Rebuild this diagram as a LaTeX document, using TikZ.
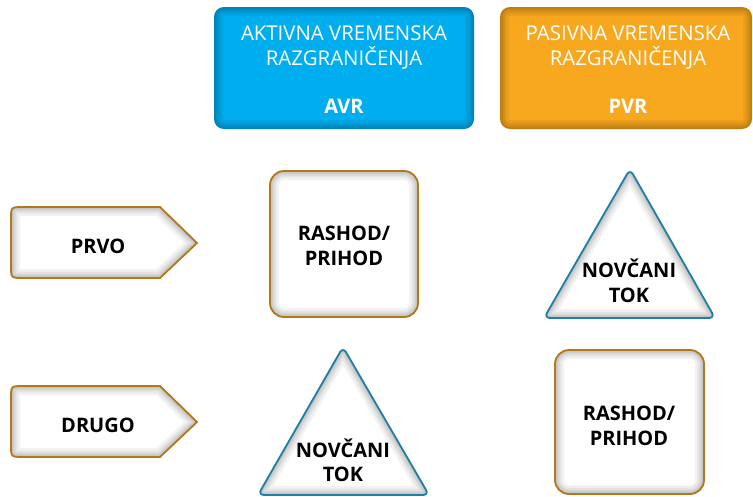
\documentclass[tikz,border=0pt]{standalone}
\usepackage{fontspec}
\setmainfont{Open Sans}
\definecolor{avrblue}{HTML}{00ADEF}
\definecolor{pvrorange}{HTML}{F7A81E}
\definecolor{framebrown}{HTML}{B3781A}
\definecolor{frameblue}{HTML}{1E7FA3}
% soft shading along the inside of a closed path: #1 path, #2 colour, #3 strength
\newcommand\innerglow[3]{%
  \begin{scope}
    \clip #1;
    \foreach \w in {18,13,9,6,3}
      \draw[line width=\w pt, draw=#2, draw opacity=#3] #1;
  \end{scope}}
\begin{document}
\begin{tikzpicture}[x=1pt,y=-1pt,
    headtxt/.style={text=white, font=\fontsize{20.4}{24}\selectfont, anchor=base, inner sep=0pt},
    headtag/.style={text=white, font=\fontsize{20}{24}\selectfont\bfseries, anchor=base, inner sep=0pt},
    bodytxt/.style={text=black, font=\fontsize{20}{24}\selectfont\bfseries, anchor=base, inner sep=0pt},
    brownframe/.style={draw=framebrown, line width=1.8pt},
    blueframe/.style={draw=frameblue, line width=1.8pt}]
\useasboundingbox (0,0) rectangle (753,496);

% column headers
\fill[avrblue, rounded corners=10] (214,7) rectangle (474,129);
\innerglow{[rounded corners=10] (214,7) rectangle (474,129)}{black}{0.05}
\fill[pvrorange, rounded corners=10] (500,7) rectangle (752,129);
\innerglow{[rounded corners=10] (500,7) rectangle (752,129)}{black}{0.05}

\node[headtxt] (avr1) at (344,40) {AKTIVNA VREMENSKA};
\node[headtxt] (avr2) at (344,65) {RAZGRANIČENJA};
\node[headtag] (avr3) at (344,113) {AVR};
\node[headtxt] (pvr1) at (628,40) {PASIVNA VREMENSKA};
\node[headtxt] (pvr2) at (628,65) {RAZGRANIČENJA};
\node[headtag] (pvr3) at (628,113) {PVR};

% row labels (tags pointing right)
\def\tagpath#1{(160,#1-36) -- (197,#1) -- (160,#1+35) -- (23,#1+35) .. controls (11,#1+35) .. (11,#1+23) -- (11,#1-24) .. controls (11,#1-36) .. (23,#1-36) -- cycle}
\fill[white] \tagpath{243};
\innerglow{\tagpath{243}}{black}{0.05}
\draw[brownframe] \tagpath{243};
\node[bodytxt] (prvo) at (98,253) {PRVO};

\fill[white] \tagpath{422};
\innerglow{\tagpath{422}}{black}{0.05}
\draw[brownframe] \tagpath{422};
\node[bodytxt] (drugo) at (98,432) {DRUGO};

% first row
\fill[white, rounded corners=14] (270,171) rectangle (418,317);
\innerglow{[rounded corners=14] (270,171) rectangle (418,317)}{black}{0.05}
\draw[brownframe, rounded corners=14] (270,171) rectangle (418,317);
\node[bodytxt] (rp1a) at (344,240) {RASHOD/};
\node[bodytxt] (rp1b) at (344,265) {PRIHOD};

\fill[white, rounded corners=6] (630,169) -- (715,318) -- (544,318) -- cycle;
\innerglow{[rounded corners=6] (630,169) -- (715,318) -- (544,318) -- cycle}{black}{0.05}
\draw[blueframe, rounded corners=6] (630,169) -- (715,318) -- (544,318) -- cycle;
\node[bodytxt] (nt1a) at (629,277) {NOVČANI};
\node[bodytxt] (nt1b) at (629,302) {TOK};

% second row
\fill[white, rounded corners=6] (343,347) -- (429,495) -- (258,495) -- cycle;
\innerglow{[rounded corners=6] (343,347) -- (429,495) -- (258,495) -- cycle}{black}{0.05}
\draw[blueframe, rounded corners=6] (343,347) -- (429,495) -- (258,495) -- cycle;
\node[bodytxt] (nt2a) at (343,457) {NOVČANI};
\node[bodytxt] (nt2b) at (343,481) {TOK};

\fill[white, rounded corners=14] (555,350) rectangle (704,494);
\innerglow{[rounded corners=14] (555,350) rectangle (704,494)}{black}{0.05}
\draw[brownframe, rounded corners=14] (555,350) rectangle (704,494);
\node[bodytxt] (rp2a) at (629,420) {RASHOD/};
\node[bodytxt] (rp2b) at (629,445) {PRIHOD};
\end{tikzpicture}
\end{document}
